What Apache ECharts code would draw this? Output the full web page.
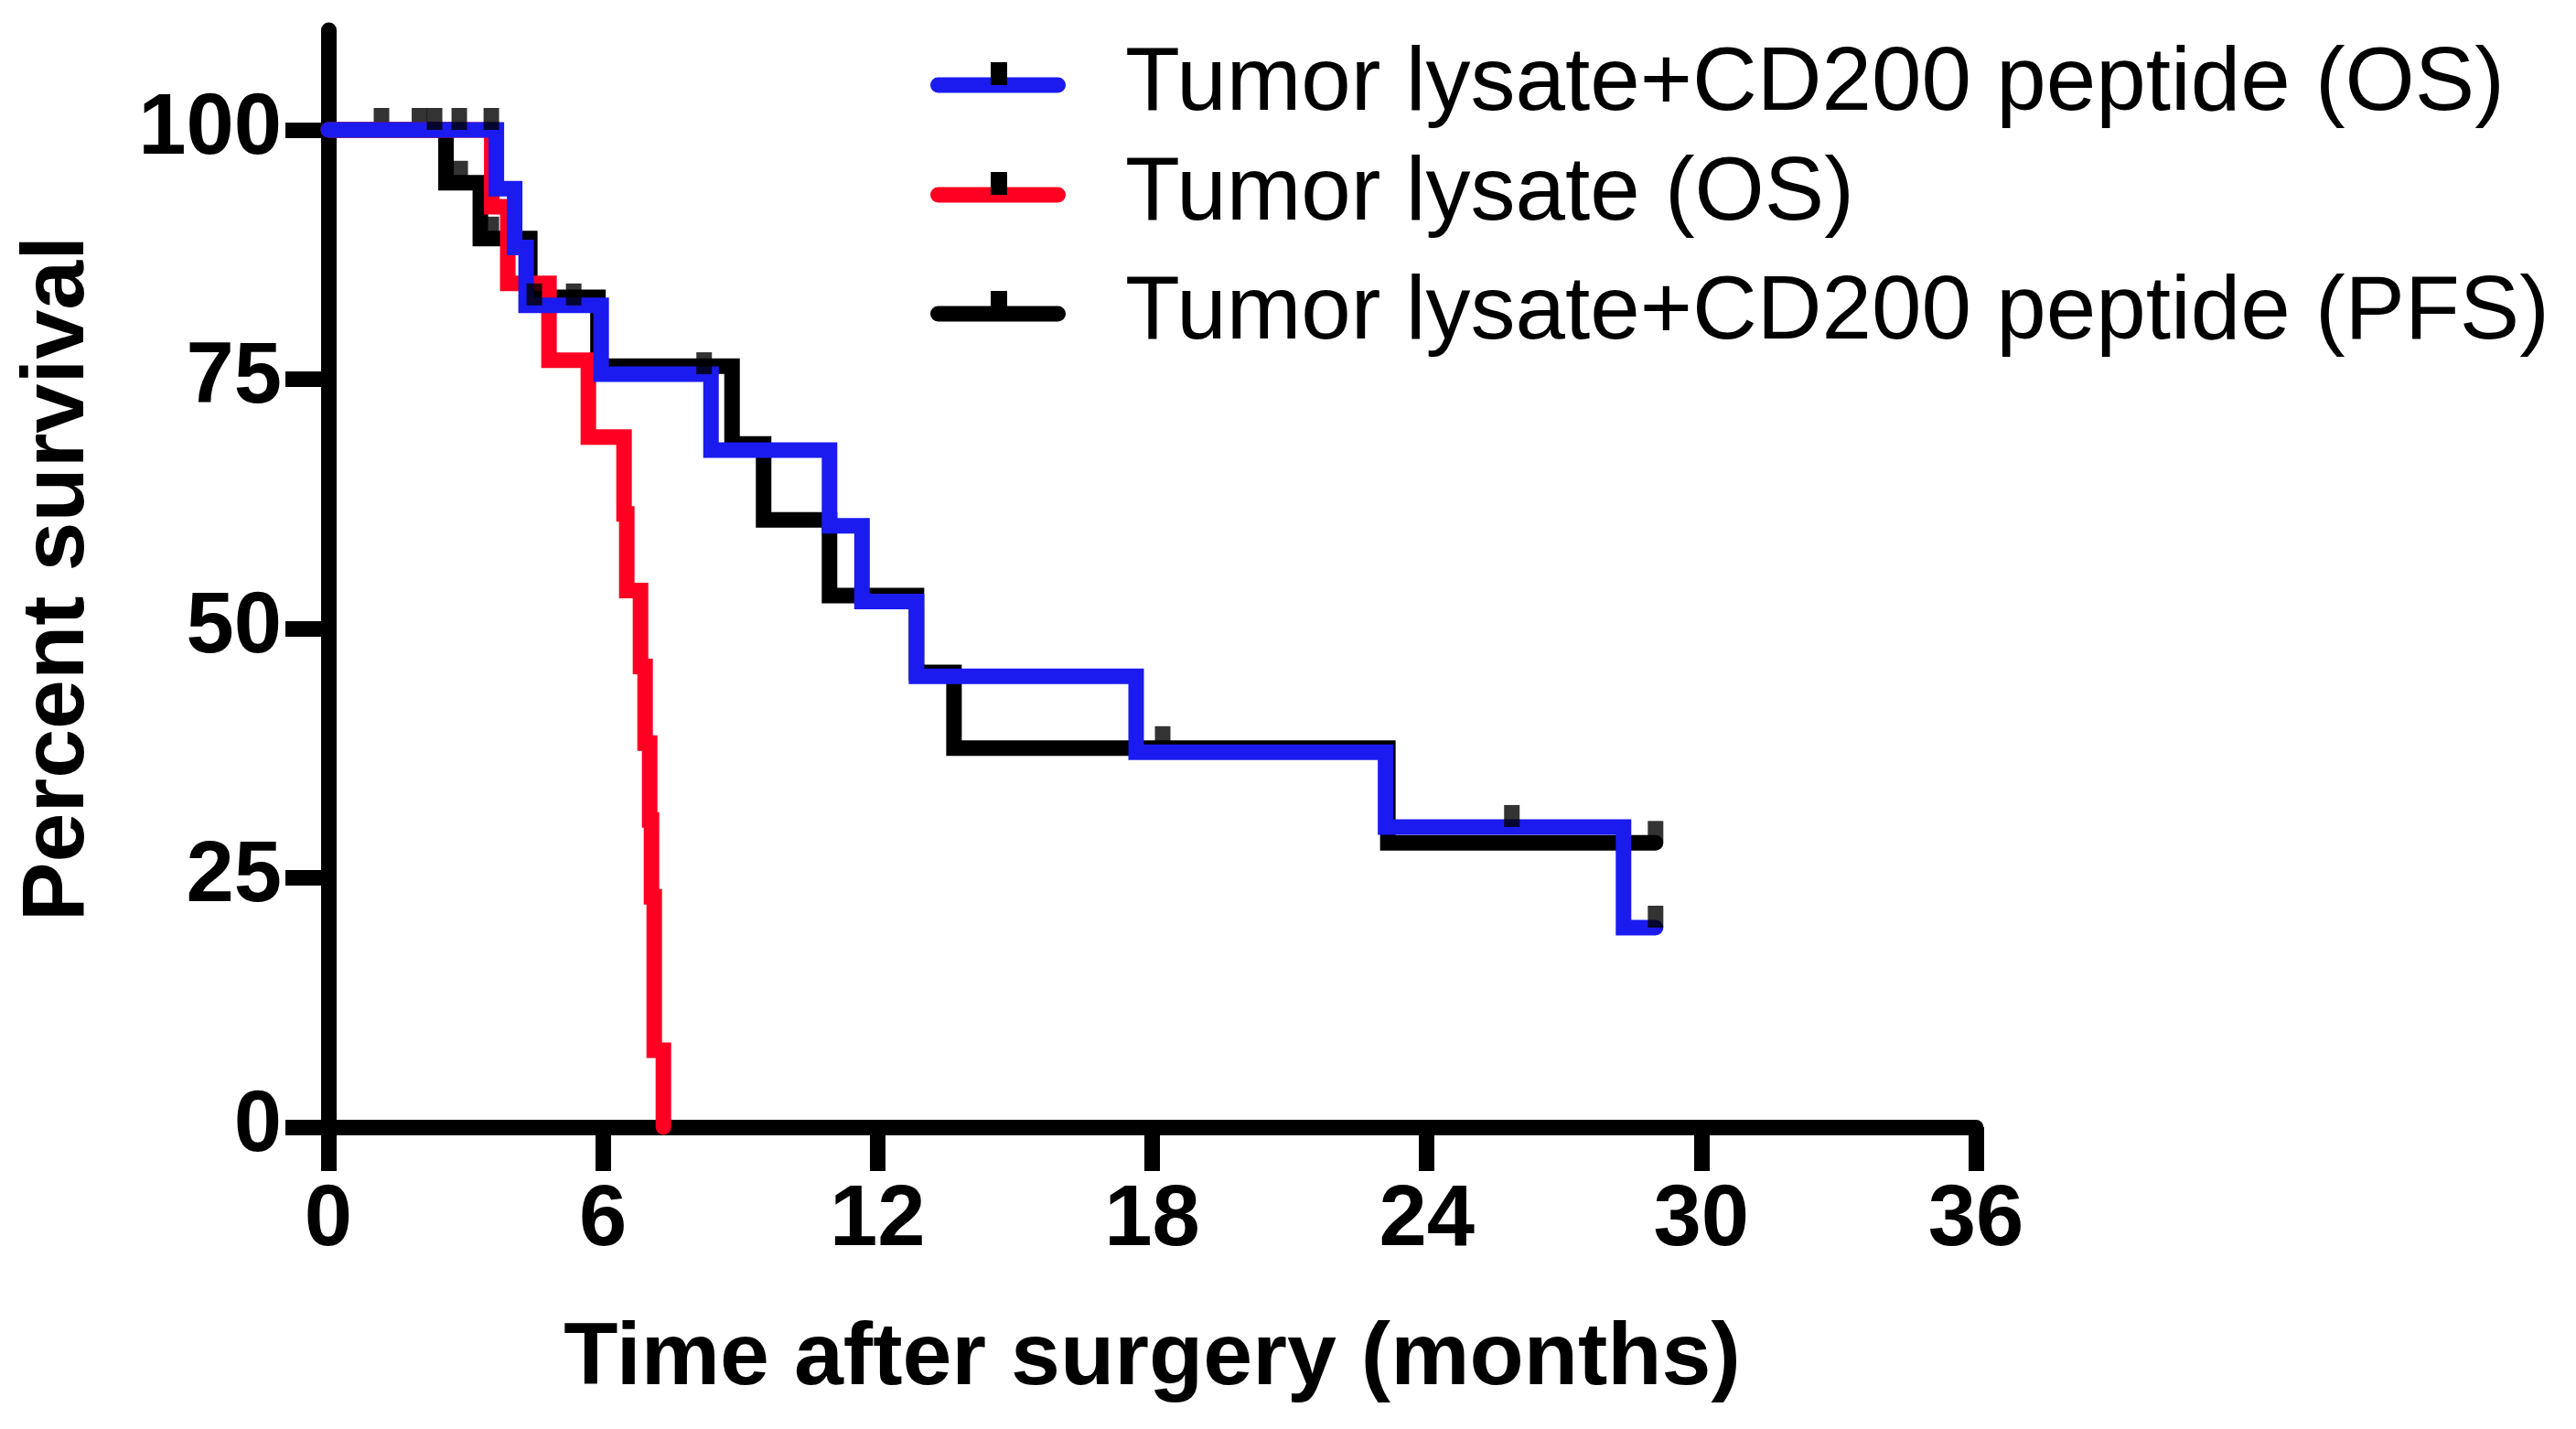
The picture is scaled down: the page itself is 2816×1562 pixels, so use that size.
<!DOCTYPE html>
<html>
<head>
<meta charset="utf-8">
<script src="https://cdn.jsdelivr.net/npm/echarts@6/dist/echarts.min.js"></script>
<style>
html,body{margin:0;padding:0;background:#fff;}
#chart{width:2816px;height:1562px;}
</style>
</head>
<body>
<div id="chart"></div>
<script>
// ---- data ----
const seriesNames = ['Tumor lysate+CD200 peptide (OS)', 'Tumor lysate (OS)', 'Tumor lysate+CD200 peptide (PFS)'];
const seriesColors = ['#1B1BF0', '#FF0022', '#000000'];

const blueTimes = [0, 3.67, 4.07, 4.32, 5.96, 8.36, 10.95, 11.66, 12.85, 17.65, 23.1, 28.3, 29.0];
const blueSurv  = [100, 94.1, 88.2, 82.4, 75.5, 67.9, 60.3, 52.7, 45.2, 37.6, 30.1, 20.0, 20.0];
const blueCensorTimes = [2.32, 2.86, 3.56, 4.5, 5.36, 8.21, 25.86, 29.0];
const blueCensorSurv  = [100, 100, 100, 82.4, 82.4, 75.5, 30.1, 20.0];

const redTimes = [0, 3.57, 3.92, 4.82, 5.68, 6.46, 6.52, 6.82, 6.92, 7.02, 7.06, 7.12, 7.32];
const redSurv  = [100, 92.3, 84.6, 76.9, 69.2, 61.5, 53.8, 46.2, 38.5, 30.8, 23.1, 7.7, 0];

const blackTimes = [0, 2.57, 3.32, 4.4, 5.89, 8.82, 9.51, 10.95, 12.85, 13.67, 23.15, 29.0];
const blackSurv  = [100, 94.7, 89.1, 83.2, 76.3, 68.5, 60.9, 53.3, 45.6, 38.0, 28.5, 28.5];
const blackCensorTimes = [1.16, 1.99, 2.88, 3.56, 18.23, 29.0];
const blackCensorSurv  = [100, 100, 94.7, 89.1, 38.0, 28.5];

const xTicks = [0, 6, 12, 18, 24, 30, 36];
const yTicks = [0, 25, 50, 75, 100];

// ---- helpers ----
const pair = (xs, ys) => xs.map((x, i) => [x, ys[i]]);
const FONT = '"Liberation Sans", Arial, Helvetica, sans-serif';
const LW = 17;

function legendIcon(color) {
  const svg = "<svg xmlns='http://www.w3.org/2000/svg' width='208' height='100' viewBox='0 0 208 100'>" +
    "<line x1='8.5' y1='50' x2='139.5' y2='50' stroke='" + color + "' stroke-width='17' stroke-linecap='round'/>" +
    "<rect x='66' y='25' width='18' height='25' fill='#000000'/></svg>";
  return 'image://data:image/svg+xml;charset=utf-8,' + encodeURIComponent(svg);
}

function stepLine(name, data, color, z) {
  return {
    type: 'line', name: name, data: data, step: 'end',
    showSymbol: false, symbol: 'none', clip: false, z: z,
    lineStyle: { color: color, width: LW, cap: 'round', join: 'miter' },
    itemStyle: { color: color },
    emphasis: { disabled: true }
  };
}
function censor(name, data, z) {
  return {
    type: 'scatter', name: name, data: data, clip: false, z: z,
    symbol: 'rect', symbolSize: [17, 24], symbolOffset: [0, '-50%'],
    itemStyle: { color: '#000000' },
    emphasis: { disabled: true }
  };
}

const legendTops = [43, 163, 293];
const legends = seriesNames.map((n, i) => ({
  data: [{ name: n, icon: legendIcon(seriesColors[i]) }],
  left: 1017, top: legendTops[i], padding: 0, orient: 'vertical',
  itemWidth: 208, itemHeight: 100, selectedMode: false,
  textStyle: { fontSize: 98, fontFamily: FONT, color: '#000', fontWeight: 'normal' }
}));

const chart = echarts.init(document.getElementById('chart'));
chart.setOption({
  animation: false,
  backgroundColor: '#ffffff',
  legend: legends,
  grid: { left: 359, right: 656, top: 33, bottom: 330, containLabel: false },
  xAxis: {
    type: 'value', min: 0, max: 36, interval: 6,
    name: 'Time after surgery (months)', nameLocation: 'middle', nameGap: 206,
    nameTextStyle: { fontSize: 97, fontWeight: 'bold', fontFamily: FONT, color: '#000' },
    axisLine: { show: true, onZero: false, lineStyle: { color: '#000', width: LW } },
    axisTick: { show: true, inside: false, length: 48, lineStyle: { color: '#000', width: LW } },
    axisLabel: { margin: 56, fontSize: 94, fontWeight: 'bold', fontFamily: FONT, color: '#000',
                 formatter: v => xTicks.includes(v) ? String(v) : '' },
    splitLine: { show: false }
  },
  yAxis: {
    type: 'value', min: 0, max: 110,
    name: 'Percent survival', nameLocation: 'middle', nameGap: 246, nameRotate: 90,
    nameTextStyle: { fontSize: 97, fontWeight: 'bold', fontFamily: FONT, color: '#000' },
    axisLine: { show: true, onZero: false, lineStyle: { color: '#000', width: LW } },
    axisTick: { show: true, inside: false, length: 47, customValues: yTicks, lineStyle: { color: '#000', width: LW } },
    axisLabel: { margin: 51, fontSize: 94, fontWeight: 'bold', fontFamily: FONT, color: '#000', customValues: yTicks },
    splitLine: { show: false }
  },
  series: [
    stepLine(seriesNames[2], pair(blackTimes, blackSurv), seriesColors[2], 2),
    censor('PFS censored', pair(blackCensorTimes, blackCensorSurv), 3),
    stepLine(seriesNames[1], pair(redTimes, redSurv), seriesColors[1], 4),
    stepLine(seriesNames[0], pair(blueTimes, blueSurv), seriesColors[0], 5),
    censor('OS censored', pair(blueCensorTimes, blueCensorSurv), 6)
  ]
});
</script>
</body>
</html>
